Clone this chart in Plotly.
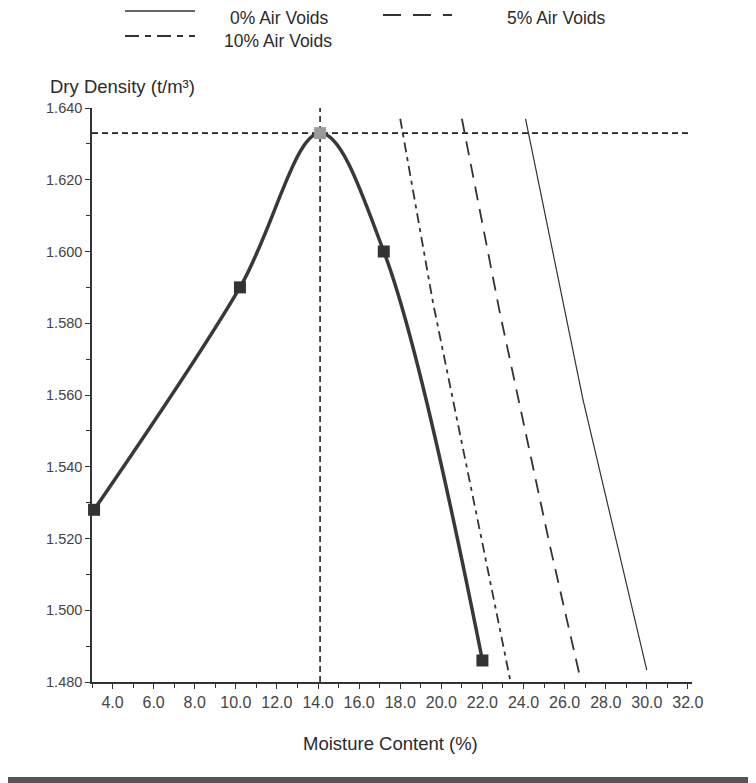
import plotly.graph_objects as go

# ---- data ----
moisture = [3.1, 10.2, 14.1, 17.2, 22.0]
dry_density = [1.528, 1.590, 1.633, 1.600, 1.486]

omc = 14.1
mdd = 1.633

zav0_x = [24.1, 25.9, 26.9, 30.0]
zav0_y = [1.637, 1.5865, 1.5586, 1.4833]
zav5_x = [21.0, 22.85, 25.3, 26.75]
zav5_y = [1.637, 1.5829, 1.5176, 1.4814]
zav10_x = [18.0, 19.6, 22.0, 23.35]
zav10_y = [1.637, 1.5856, 1.5187, 1.4806]

x_range = [3, 32.2]
y_range = [1.480, 1.640]
x_tickvals = [4, 6, 8, 10, 12, 14, 16, 18, 20, 22, 24, 26, 28, 30, 32]
x_ticktext = ["4.0", "6.0", "8.0", "10.0", "12.0", "14.0", "16.0", "18.0", "20.0",
              "22.0", "24.0", "26.0", "28.0", "30.0", "32.0"]
y_tickvals = [1.48, 1.50, 1.52, 1.54, 1.56, 1.58, 1.60, 1.62, 1.64]
y_ticktext = ["1.480", "1.500", "1.520", "1.540", "1.560", "1.580", "1.600", "1.620", "1.640"]

legend_labels = ["0% Air Voids", "5% Air Voids", "10% Air Voids"]

FONT = "Liberation Sans, Arial, sans-serif"
INK = "#2b2b2b"

DASH5 = "14px,9px"
DASH10 = "10px,5px,4px,5px"

# plot area in page pixels (page has 8px body margin)
PX0, PX1, PY0, PY1 = 92, 692, 108, 682


def px(xp):
    return (xp - PX0) / (PX1 - PX0)


def py(yp):
    return (PY1 - yp) / (PY1 - PY0)


fig = go.Figure()

# MDD / OMC reference lines
fig.add_trace(go.Scatter(x=[x_range[0], x_range[1]], y=[mdd, mdd], mode="lines",
                         line=dict(color="#222", width=1.6, dash="6px,4px"),
                         showlegend=False, hoverinfo="skip"))
fig.add_trace(go.Scatter(x=[omc, omc], y=[y_range[0], y_range[1]], mode="lines",
                         line=dict(color="#222", width=1.6, dash="6px,4px"),
                         showlegend=False, hoverinfo="skip"))

# air void lines
fig.add_trace(go.Scatter(x=zav0_x, y=zav0_y, mode="lines", name=legend_labels[0],
                         line=dict(color="#333", width=1.2), showlegend=False))
fig.add_trace(go.Scatter(x=zav5_x, y=zav5_y, mode="lines", name=legend_labels[1],
                         line=dict(color="#333", width=1.8, dash=DASH5), showlegend=False))
fig.add_trace(go.Scatter(x=zav10_x, y=zav10_y, mode="lines", name=legend_labels[2],
                         line=dict(color="#333", width=1.8, dash=DASH10), showlegend=False))

# compaction curve
fig.add_trace(go.Scatter(x=moisture, y=dry_density, mode="lines",
                         line=dict(color="#383838", width=3.5, shape="spline", smoothing=1.0),
                         showlegend=False, hoverinfo="skip"))
marker_colors = ["#333333", "#333333", "#9a9a9a", "#333333", "#333333"]
fig.add_trace(go.Scatter(x=moisture, y=dry_density, mode="markers",
                         marker=dict(symbol="square", size=12, color=marker_colors),
                         showlegend=False, cliponaxis=False))

# manual legend (paper coordinates)
leg = [
    (125, 195, 11, "solid", 1.4, 228, 18, legend_labels[0]),
    (383, 452, 15, "18px,12px", 2.2, 505, 18, legend_labels[1]),
    (125, 195, 36, "14px,6px,6px,6px", 2.2, 222, 41, legend_labels[2]),
]
for x0, x1, yl, dash, w, tx, ty, label in leg:
    fig.add_shape(type="line", xref="paper", yref="paper", x0=px(x0), x1=px(x1),
                  y0=py(yl), y1=py(yl), line=dict(color="#333", width=w, dash=dash))
    fig.add_annotation(xref="paper", yref="paper", x=px(tx), y=py(ty), text=label,
                       showarrow=False, xanchor="left", yanchor="middle",
                       font=dict(family=FONT, size=17.5, color=INK))

# axis titles
fig.add_annotation(xref="paper", yref="paper", x=px(122), y=py(86),
                   text="Dry Density (t/m³)", showarrow=False, xanchor="center", yanchor="middle",
                   font=dict(family=FONT, size=18.5, color=INK))
fig.add_annotation(xref="paper", yref="paper", x=px(390), y=py(743),
                   text="Moisture Content (%)", showarrow=False, xanchor="center", yanchor="middle",
                   font=dict(family=FONT, size=18.5, color=INK))

# scan edge at the bottom
fig.add_shape(type="rect", xref="paper", yref="paper", x0=-0.2, x1=1.2, y0=py(790), y1=py(777),
              line=dict(width=0), fillcolor="#555")

fig.update_xaxes(range=x_range, showgrid=False, zeroline=False, showline=True,
                 linecolor="#333", linewidth=1.5, tickmode="array", tickvals=x_tickvals,
                 ticktext=x_ticktext, ticks="outside", ticklen=5, tickcolor="#333",
                 tickfont=dict(family=FONT, size=16, color="#444"),
                 minor=dict(dtick=1, tick0=3, ticks="outside", ticklen=4, tickcolor="#333"))
fig.update_yaxes(range=y_range, showgrid=False, zeroline=False, showline=True,
                 linecolor="#333", linewidth=1.5, tickmode="array", tickvals=y_tickvals,
                 ticktext=y_ticktext, ticks="outside", ticklen=5, tickcolor="#333",
                 tickfont=dict(family=FONT, size=14.5, color="#444"),
                 minor=dict(dtick=0.01, tick0=1.48, ticks="outside", ticklen=4, tickcolor="#333"))

# body of the page has an 8px margin, so margins are shifted to keep the plot in place
fig.update_layout(width=756, height=783, margin=dict(l=84, r=72, t=100, b=109),
                  paper_bgcolor="white", plot_bgcolor="white", showlegend=False)

fig.write_html("out.html")
